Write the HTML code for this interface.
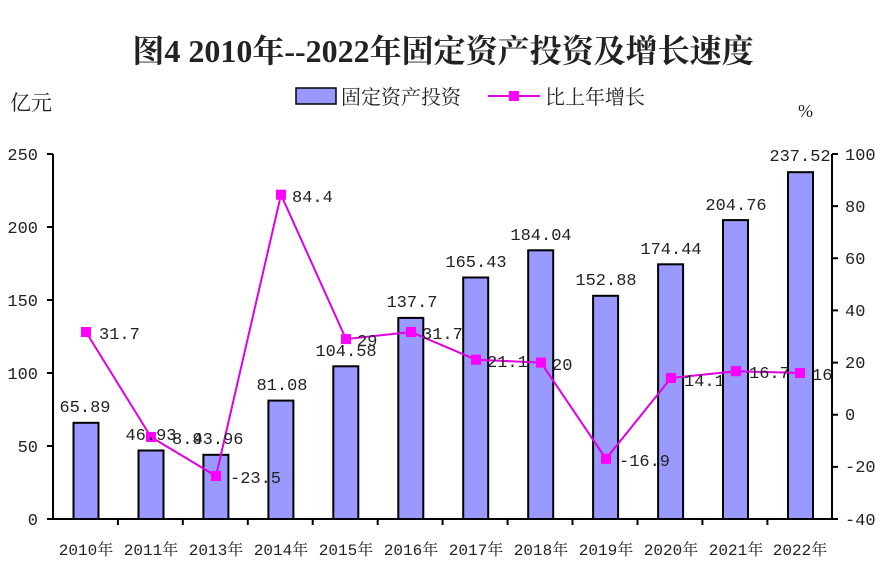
<!DOCTYPE html>
<html><head><meta charset="utf-8"><style>
html,body{margin:0;padding:0;background:#fff}
text{font-family:"Liberation Mono","Noto Serif CJK SC","Noto Sans CJK SC",monospace;fill:#222}
.cj{font-family:"Liberation Serif","Noto Serif CJK SC",serif}
</style></head><body>
<svg width="886" height="583" viewBox="0 0 886 583" xmlns="http://www.w3.org/2000/svg">
<text x="443" y="62" text-anchor="middle" class="cj" font-size="32" font-weight="bold" fill="#000">图4 2010年--2022年固定资产投资及增长速度</text>
<text x="10" y="110" class="cj" font-size="21">亿元</text>
<text x="798" y="117" class="cj" font-size="18">%</text>
<rect x="296" y="88" width="40" height="16" fill="#9999ff" stroke="#000" stroke-width="1.5"/>
<text x="341" y="104" class="cj" font-size="20">固定资产投资</text>
<line x1="488" y1="96" x2="540" y2="96" stroke="#e000e0" stroke-width="2"/>
<rect x="509" y="91" width="10" height="10" fill="#ff00ff"/>
<text x="545" y="104" class="cj" font-size="20">比上年增长</text>
<g id="bars" fill="#9999ff" stroke="#000" stroke-width="2">
<rect x="73.5" y="422.8" width="25" height="96.2"/>
<rect x="138.5" y="450.5" width="25" height="68.5"/>
<rect x="203.4" y="454.8" width="25" height="64.2"/>
<rect x="268.4" y="400.6" width="25" height="118.4"/>
<rect x="333.3" y="366.3" width="25" height="152.7"/>
<rect x="398.3" y="317.9" width="25" height="201.1"/>
<rect x="463.2" y="277.5" width="25" height="241.5"/>
<rect x="528.2" y="250.3" width="25" height="268.7"/>
<rect x="593.1" y="295.8" width="25" height="223.2"/>
<rect x="658.1" y="264.3" width="25" height="254.7"/>
<rect x="723" y="220.1" width="25" height="298.9"/>
<rect x="788" y="172.2" width="25" height="346.8"/>
</g>
<g stroke="#000" stroke-width="2" fill="none">
<line x1="53" y1="154" x2="53" y2="520"/>
<line x1="832" y1="154" x2="832" y2="520"/>
<line x1="52" y1="519" x2="833" y2="519"/>
<path d="M47 154H53M47 227H53M47 300H53M47 373H53M47 446H53M47 519H53"/>
<path d="M832 154H838M832 206.1H838M832 258.3H838M832 310.4H838M832 362.6H838M832 414.7H838M832 466.9H838M832 519H838"/>
<path d="M117.9 519V525M182.8 519V525M247.8 519V525M312.7 519V525M377.7 519V525M442.6 519V525M507.6 519V525M572.5 519V525M637.5 519V525M702.4 519V525M767.4 519V525"/>
</g>
<g font-size="17" text-anchor="end">
<text x="38" y="160">250</text><text x="38" y="233">200</text><text x="38" y="306">150</text><text x="38" y="379">100</text><text x="38" y="452">50</text><text x="38" y="525">0</text>
</g>
<g font-size="17">
<text x="845" y="160">100</text><text x="845" y="212">80</text><text x="845" y="264">60</text><text x="845" y="316">40</text><text x="845" y="368">20</text><text x="845" y="420">0</text><text x="845" y="472">-20</text><text x="845" y="525">-40</text>
</g>
<g font-size="16" text-anchor="middle" class="cj">
<text x="86" y="555">2010年</text><text x="151" y="555">2011年</text><text x="216" y="555">2013年</text><text x="281" y="555">2014年</text><text x="346" y="555">2015年</text><text x="411" y="555">2016年</text><text x="476" y="555">2017年</text><text x="541" y="555">2018年</text><text x="606" y="555">2019年</text><text x="671" y="555">2020年</text><text x="736" y="555">2021年</text><text x="800" y="555">2022年</text>
</g>
<polyline fill="none" stroke="#e000e0" stroke-width="2" points="86,332 151,437 216,476 281,194.7 346,339.1 411,332 476,359.7 541,362.6 606,458.8 671,378 736,371.2 800,373"/>
<g fill="#ff00ff">
<rect x="81" y="327" width="10" height="10"/><rect x="146" y="432" width="10" height="10"/><rect x="211" y="471" width="10" height="10"/><rect x="276" y="189.7" width="10" height="10"/><rect x="341" y="334.1" width="10" height="10"/><rect x="406" y="327" width="10" height="10"/><rect x="471" y="354.7" width="10" height="10"/><rect x="536" y="357.6" width="10" height="10"/><rect x="601" y="453.8" width="10" height="10"/><rect x="666" y="373" width="10" height="10"/><rect x="731" y="366.2" width="10" height="10"/><rect x="795" y="368" width="10" height="10"/>
</g>
<g font-size="17" text-anchor="middle">
<text x="85" y="412">65.89</text><text x="151" y="440">46.93</text><text x="218" y="444">43.96</text><text x="282" y="390">81.08</text><text x="346" y="356">104.58</text><text x="412" y="307">137.7</text><text x="476" y="267">165.43</text><text x="541" y="240">184.04</text><text x="606" y="285">152.88</text><text x="671" y="254">174.44</text><text x="736" y="210">204.76</text><text x="800" y="161">237.52</text>
</g>
<g font-size="17">
<text x="99" y="339">31.7</text><text x="172" y="444">8.9</text><text x="230" y="483">-23.5</text><text x="292" y="202">84.4</text><text x="357" y="346">29</text><text x="422" y="339">31.7</text><text x="487" y="367">21.1</text><text x="552" y="370">20</text><text x="619" y="466">-16.9</text><text x="684" y="386">14.1</text><text x="749" y="378">16.7</text><text x="812" y="380">16</text>
</g>
</svg>
</body></html>
